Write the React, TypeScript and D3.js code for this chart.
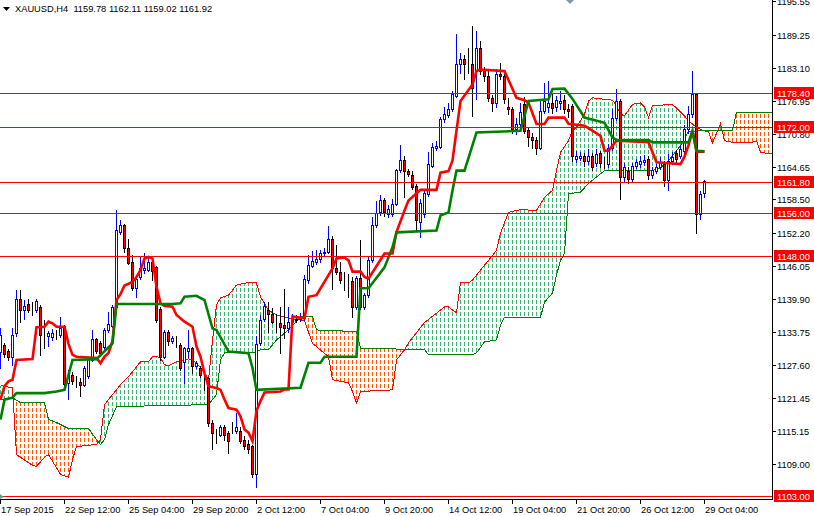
import * as React from 'react';
import * as d3 from 'd3';

// XAUUSD H4 candles, 17 Sep 2015 20:00 .. 29 Oct 2015 04:00 (177 bars)
const opens = [
  1130.0, 1131.2, 1130.1, 1129.1, 1133.5, 1139.9, 1137.8, 1139.0, 1138.4, 1137.8,
  1138.4, 1134.7, 1132.9, 1132.8, 1133.2, 1133.2, 1134.85, 1124.2, 1125.7, 1124.5,
  1124.4, 1123.9, 1125.4, 1128.5, 1132.4, 1131.7, 1131.0, 1134.0, 1134.85, 1138.45,
  1152.5, 1153.8, 1149.5, 1146.8, 1142.0, 1144.0, 1145.3, 1145.3, 1146.8, 1145.9,
  1138.1, 1129.1, 1133.8, 1131.95, 1132.2, 1131.3, 1128.2, 1130.1, 1130.7, 1127.3,
  1127.0, 1125.5, 1125.1, 1116.7, 1114.9, 1114.55, 1115.9, 1114.9, 1115.6, 1115.2,
  1115.3, 1113.6, 1112.8, 1112.4, 1107.1, 1131.6, 1136.1, 1137.9, 1137.0, 1135.6,
  1135.35, 1135.0, 1134.4, 1135.6, 1136.2, 1136.15, 1136.3, 1143.4, 1146.1, 1146.8,
  1147.3, 1148.4, 1148.7, 1151.2, 1145.6, 1145.0, 1143.55, 1143.4, 1143.2, 1138.45,
  1143.9, 1138.45, 1140.6, 1147.15, 1153.65, 1156.1, 1158.4, 1155.8, 1155.8, 1157.6,
  1164.0, 1165.9, 1163.9, 1163.0, 1161.1, 1154.2, 1155.8, 1159.6, 1164.8, 1168.1,
  1168.4, 1173.5, 1174.2, 1175.4, 1177.9, 1183.8, 1184.7, 1183.8, 1183.8, 1182.5,
  1186.9, 1182.5, 1181.6, 1177.55, 1176.6, 1181.9, 1181.6, 1175.8, 1175.4, 1171.65,
  1172.6, 1176.3, 1171.45, 1170.1, 1169.6, 1168.2, 1175.0, 1175.7, 1176.6, 1175.7,
  1176.6, 1177.05, 1175.4, 1176.0, 1166.1, 1166.25, 1166.7, 1165.75, 1166.7, 1165.4,
  1167.1, 1165.45, 1165.1, 1168.2, 1173.8, 1176.9, 1162.65, 1163.9, 1162.3, 1164.8,
  1165.1, 1165.45, 1166.1, 1163.0, 1163.9, 1164.6, 1165.1, 1162.15, 1165.75, 1167.1,
  1166.7, 1167.6, 1171.65, 1174.45, 1178.2, 1155.8, 1159.78,
];
const highs = [
  1134.5, 1131.7, 1130.6, 1134.5, 1141.6, 1141.6, 1139.7, 1139.9, 1139.3, 1139.9,
  1138.8, 1136.0, 1133.9, 1134.2, 1134.0, 1136.5, 1135.0, 1126.7, 1126.3, 1125.4,
  1125.2, 1127.3, 1128.95, 1134.1, 1132.6, 1132.0, 1134.5, 1137.5, 1138.75, 1156.45,
  1154.6, 1154.0, 1151.2, 1148.1, 1144.0, 1147.8, 1148.4, 1147.8, 1147.5, 1146.0,
  1138.45, 1134.1, 1134.1, 1133.0, 1132.9, 1131.7, 1131.0, 1134.1, 1131.0, 1128.3,
  1127.4, 1126.65, 1125.35, 1117.3, 1115.5, 1116.4, 1116.4, 1115.2, 1116.8, 1118.6,
  1115.9, 1114.2, 1113.6, 1112.5, 1133.0, 1136.9, 1139.3, 1139.4, 1138.2, 1137.0,
  1138.45, 1141.7, 1138.3, 1137.0, 1136.9, 1137.3, 1144.35, 1148.1, 1148.9, 1149.0,
  1149.1, 1149.5, 1153.45, 1151.6, 1149.9, 1146.8, 1145.0, 1144.65, 1144.0, 1144.2,
  1151.0, 1141.0, 1147.8, 1155.2, 1158.3, 1159.4, 1158.8, 1157.5, 1158.6, 1164.2,
  1168.7, 1166.7, 1164.2, 1163.9, 1161.3, 1158.5, 1160.2, 1167.3, 1169.0, 1169.5,
  1174.0, 1175.7, 1176.5, 1178.8, 1189.35, 1185.9, 1185.6, 1186.9, 1190.9, 1190.0,
  1188.1, 1183.3, 1182.8, 1178.0, 1182.8, 1184.1, 1182.0, 1177.55, 1175.8, 1173.8,
  1176.6, 1177.7, 1171.9, 1171.0, 1170.1, 1176.9, 1180.35, 1180.65, 1178.2, 1177.9,
  1178.8, 1178.0, 1176.4, 1176.4, 1167.5, 1167.4, 1167.2, 1167.9, 1167.2, 1168.0,
  1167.6, 1166.4, 1168.9, 1175.4, 1179.1, 1177.2, 1165.3, 1164.6, 1165.4, 1166.0,
  1166.7, 1166.9, 1166.7, 1164.6, 1165.1, 1166.4, 1165.7, 1167.0, 1167.3, 1167.7,
  1168.6, 1172.4, 1176.0, 1182.5, 1178.4, 1160.0, 1162.11,
];
const lows = [
  1127.0, 1129.1, 1128.5, 1127.6, 1133.0, 1135.6, 1136.1, 1137.5, 1136.9, 1137.5,
  1129.4, 1130.8, 1131.1, 1132.2, 1132.5, 1132.8, 1123.5, 1121.2, 1124.0, 1123.5,
  1121.7, 1123.6, 1125.2, 1128.3, 1129.8, 1129.2, 1130.6, 1133.7, 1134.6, 1137.8,
  1152.0, 1148.6, 1146.4, 1141.55, 1140.3, 1143.7, 1144.7, 1145.1, 1143.4, 1135.6,
  1128.5, 1128.9, 1131.3, 1131.7, 1131.0, 1126.6, 1124.2, 1129.1, 1126.0, 1126.9,
  1125.35, 1122.9, 1116.1, 1111.8, 1113.0, 1114.2, 1113.6, 1111.1, 1114.9, 1114.9,
  1112.9, 1111.8, 1111.1, 1106.7, 1104.7, 1131.3, 1135.8, 1133.8, 1135.4, 1133.8,
  1129.8, 1132.6, 1133.8, 1135.2, 1135.5, 1135.7, 1136.0, 1142.9, 1145.8, 1146.4,
  1146.8, 1148.0, 1148.4, 1141.7, 1144.6, 1142.8, 1141.55, 1140.3, 1136.5, 1138.0,
  1138.0, 1138.0, 1140.3, 1146.8, 1153.3, 1155.6, 1155.5, 1155.2, 1155.4, 1157.4,
  1163.7, 1158.9, 1162.9, 1160.5, 1152.7, 1151.5, 1155.2, 1159.2, 1164.5, 1167.8,
  1168.1, 1173.0, 1173.9, 1175.0, 1177.6, 1182.2, 1181.0, 1182.2, 1174.1, 1177.2,
  1181.9, 1180.6, 1177.0, 1175.1, 1175.7, 1181.0, 1176.5, 1174.5, 1171.0, 1170.7,
  1172.3, 1170.9, 1168.55, 1168.2, 1167.0, 1167.9, 1174.6, 1174.8, 1174.6, 1175.0,
  1175.4, 1174.6, 1173.9, 1165.7, 1165.5, 1165.8, 1164.8, 1165.2, 1164.0, 1164.8,
  1164.6, 1164.4, 1164.5, 1167.8, 1173.4, 1158.6, 1162.0, 1161.6, 1161.9, 1164.3,
  1164.6, 1165.0, 1162.3, 1162.6, 1163.5, 1164.2, 1161.1, 1160.2, 1165.2, 1165.5,
  1166.2, 1167.2, 1171.0, 1174.0, 1152.3, 1154.9, 1159.02,
];
const closes = [
  1133.2, 1129.6, 1129.1, 1133.2, 1139.9, 1137.8, 1138.6, 1137.8, 1138.4, 1139.5,
  1133.2, 1134.7, 1133.6, 1133.6, 1133.2, 1134.5, 1124.0, 1125.6, 1124.5, 1124.5,
  1123.8, 1127.0, 1128.7, 1132.4, 1130.1, 1129.8, 1134.1, 1135.2, 1138.45, 1152.7,
  1153.65, 1149.5, 1146.65, 1141.9, 1143.7, 1145.6, 1145.6, 1146.8, 1145.15, 1136.0,
  1129.1, 1133.8, 1131.95, 1132.6, 1132.2, 1127.0, 1130.7, 1130.7, 1127.3, 1127.9,
  1125.7, 1125.5, 1116.7, 1114.9, 1114.9, 1115.9, 1114.55, 1113.3, 1115.6, 1115.9,
  1113.3, 1112.4, 1111.9, 1107.1, 1131.5, 1135.95, 1138.6, 1137.1, 1135.65, 1135.6,
  1134.6, 1134.4, 1135.65, 1136.2, 1136.0, 1136.6, 1143.6, 1146.2, 1146.95, 1147.45,
  1148.4, 1148.7, 1151.2, 1145.6, 1145.0, 1143.4, 1143.55, 1143.4, 1138.45, 1143.9,
  1138.45, 1140.6, 1147.15, 1153.65, 1156.0, 1158.4, 1156.1, 1156.75, 1157.6, 1164.0,
  1165.9, 1163.9, 1163.3, 1160.8, 1154.6, 1157.8, 1159.7, 1165.15, 1168.4, 1168.55,
  1173.5, 1174.45, 1175.4, 1178.2, 1183.8, 1184.7, 1183.8, 1183.8, 1179.4, 1186.9,
  1182.5, 1181.6, 1177.55, 1176.6, 1181.9, 1181.6, 1177.2, 1175.4, 1171.65, 1172.6,
  1174.8, 1171.3, 1170.1, 1169.6, 1168.2, 1175.0, 1176.9, 1176.6, 1175.6, 1177.05,
  1176.9, 1175.4, 1175.0, 1166.6, 1166.7, 1166.7, 1165.75, 1166.7, 1164.5, 1167.0,
  1165.25, 1165.45, 1168.2, 1173.8, 1176.9, 1162.65, 1164.6, 1162.3, 1164.8, 1165.45,
  1165.75, 1165.9, 1163.0, 1164.0, 1164.6, 1165.45, 1162.15, 1165.75, 1166.5, 1166.1,
  1167.9, 1171.65, 1174.45, 1178.2, 1155.8, 1159.55, 1161.92,
];

// Ichimoku lines as [bar, price] at the points where they turn
const tenkan: [number, number][] = [
  [0, 1121.1], [1, 1123.6], [2, 1124.5], [3, 1124.8], [4, 1128.5], [8, 1128.65], [9, 1134.6], [11, 1134.7],
  [12, 1135.65], [13, 1135.35], [14, 1134.7], [16, 1134.7], [17, 1131.5], [18, 1129.45], [19, 1129.1],
  [24, 1128.85], [25, 1127.9], [26, 1129.1], [27, 1129.8], [28, 1132.0], [29, 1139.7], [30, 1140.8],
  [31, 1142.4], [33, 1143.1], [34, 1144.0], [35, 1145.3], [36, 1147.45], [37, 1147.75], [38, 1147.45],
  [39, 1142.2], [40, 1139.1], [41, 1138.6], [43, 1138.45], [44, 1136.9], [46, 1135.65], [48, 1134.7],
  [49, 1131.0], [50, 1129.1], [51, 1126.0], [52, 1123.55], [54, 1123.25], [55, 1122.9], [56, 1121.1],
  [57, 1119.5], [59, 1119.2], [60, 1117.95], [61, 1115.5], [62, 1114.9], [63, 1113.3], [64, 1119.0],
  [65, 1120.8], [66, 1122.4], [70, 1122.6], [71, 1123.0], [72, 1123.0], [73, 1136.6], [76, 1136.3],
  [77, 1140.3], [79, 1140.6], [83, 1145.6], [84, 1147.45], [86, 1147.65], [87, 1147.1], [88, 1145.0],
  [90, 1145.0], [91, 1144.0], [92, 1143.7], [96, 1148.4], [98, 1148.4], [99, 1152.4], [101, 1156.45],
  [102, 1158.3], [105, 1160.3], [109, 1160.3], [110, 1163.5], [112, 1163.8], [113, 1165.8], [115, 1176.9],
  [118, 1180.0], [119, 1182.5], [120, 1182.8], [126, 1182.5], [129, 1177.5], [131, 1177.05], [132, 1176.6],
  [134, 1172.6], [136, 1172.6], [137, 1173.8], [141, 1173.8], [142, 1172.65], [146, 1172.3], [150, 1170.4],
  [151, 1167.6], [152, 1167.6], [154, 1169.5], [162, 1169.2], [164, 1165.45], [170, 1165.1], [171, 1166.5],
  [172, 1168.6], [173, 1171.3], [174, 1167.45], [176, 1167.45],
];
const kijun: [number, number][] = [
  [0, 1117.35], [1, 1121.07], [3, 1121.44], [4, 1122.3], [11, 1122.3], [14, 1122.6], [16, 1122.9],
  [18, 1128.5], [24, 1128.65], [28, 1131.6], [29, 1138.95], [43, 1138.95], [45, 1139.07], [46, 1140.3],
  [49, 1140.5], [51, 1139.7], [53, 1134.4], [54, 1134.1], [57, 1130.07], [62, 1129.77], [63, 1127.0],
  [64, 1122.9], [75, 1123.3], [77, 1127.96], [80, 1127.96], [81, 1129.08], [89, 1129.08], [90, 1141.9],
  [92, 1141.9], [96, 1145.8], [97, 1147.7], [98, 1149.56], [99, 1152.35], [109, 1152.7], [110, 1155.5],
  [112, 1156.08], [113, 1160.17], [114, 1163.9], [116, 1163.9], [119, 1171.03], [130, 1171.34],
  [131, 1174.14], [132, 1176.93], [137, 1177.25], [138, 1179.16], [141, 1179.22], [143, 1177.3],
  [146, 1173.82], [151, 1172.83], [153, 1170.1], [154, 1169.61], [162, 1169.61], [163, 1169.17],
  [172, 1169.17], [173, 1171.34], [174, 1167.62], [176, 1167.49],
];
const spanA: [number, number][] = [
  [0, 1123.7], [3, 1123.3], [4, 1110.8], [8, 1108.8], [9, 1108.6], [11, 1110.3], [12, 1110.8], [15, 1107.1],
  [17, 1106.55], [18, 1109.9], [19, 1112.3], [24, 1112.7], [25, 1113.6], [26, 1120.1], [27, 1121.1],
  [29, 1122.9], [30, 1123.9], [32, 1125.35], [34, 1127.2], [35, 1128.15], [37, 1128.15], [38, 1129.1],
  [39, 1129.1], [40, 1128.9], [41, 1127.6], [42, 1127.4], [44, 1128.15], [47, 1128.7], [49, 1127.96],
  [51, 1126.1], [52, 1124.8], [53, 1132.2], [54, 1138.8], [55, 1140.1], [57, 1140.6], [59, 1142.5],
  [62, 1143.0], [64, 1142.9], [65, 1140.25], [67, 1137.8], [69, 1136.9], [72, 1136.3], [75, 1135.97],
  [76, 1135.8], [78, 1131.6], [82, 1129.1], [83, 1124.8], [87, 1124.2], [88, 1122.6], [89, 1120.45],
  [90, 1122.6], [98, 1122.9], [99, 1128.5], [101, 1130.4], [102, 1131.7], [106, 1135.5], [111, 1138.4],
  [112, 1138.4], [114, 1137.3], [115, 1143.0], [117, 1142.9], [118, 1143.4], [120, 1145.3], [122, 1147.1],
  [124, 1149.0], [125, 1152.2], [127, 1156.1], [130, 1156.6], [134, 1156.45], [136, 1158.9], [138, 1160.2],
  [139, 1163.9], [140, 1167.3], [142, 1169.5], [143, 1171.3], [144, 1172.0], [146, 1174.45], [147, 1176.9],
  [148, 1177.5], [153, 1177.06], [154, 1176.0], [155, 1174.45], [156, 1174.14], [158, 1176.3], [160, 1176.56],
  [161, 1175.8], [162, 1173.8], [163, 1176.0], [168, 1176.3], [171, 1174.14], [172, 1173.2], [174, 1172.0],
  [176, 1171.3], [177, 1171.16], [178, 1169.1], [180, 1172.65], [181, 1169.5], [183, 1169.17], [188, 1169.17],
  [189, 1169.5], [190, 1167.3], [192, 1167.1], [193, 1167.1],
];
const spanB: [number, number][] = [
  [0, 1121.07], [3, 1121.44], [5, 1120.5], [11, 1120.5], [12, 1117.35], [14, 1116.8], [17, 1115.67],
  [22, 1115.67], [24, 1113.6], [25, 1112.7], [26, 1113.6], [27, 1116.4], [29, 1119.77], [52, 1120.14],
  [54, 1122.0], [55, 1128.5], [56, 1129.8], [63, 1129.8], [65, 1130.4], [67, 1130.4], [69, 1132.24],
  [72, 1134.1], [75, 1136.58], [78, 1136.58], [79, 1134.1], [89, 1133.8], [90, 1130.7], [101, 1130.5],
  [106, 1130.5], [107, 1129.45], [118, 1129.45], [119, 1129.8], [121, 1131.87], [124, 1132.24],
  [125, 1135.0], [126, 1136.5], [135, 1136.5], [136, 1139.3], [138, 1141.0], [139, 1144.35], [140, 1147.1],
  [141, 1148.4], [142, 1159.6], [145, 1159.85], [147, 1161.5], [150, 1163.3], [151, 1163.9], [163, 1163.9],
  [165, 1164.45], [167, 1165.76], [170, 1168.55], [172, 1171.16], [175, 1171.34], [183, 1171.34],
  [184, 1174.83], [193, 1174.83],
];

const levels = [1178.40, 1172.00, 1161.80, 1156.00, 1148.00, 1103.00];
const priceTicks = [1195.55, 1189.25, 1183.10, 1176.95, 1170.80, 1164.65, 1158.50, 1152.20,
  1146.05, 1139.90, 1133.75, 1127.60, 1121.45, 1115.15, 1109.00];
const timeLabels = ['17 Sep 2015', '22 Sep 12:00', '25 Sep 04:00', '29 Sep 20:00', '2 Oct 12:00',
  '7 Oct 04:00', '9 Oct 20:00', '14 Oct 12:00', '19 Oct 04:00', '21 Oct 20:00', '26 Oct 12:00', '29 Oct 04:00'];
const header = 'XAUUSD,H4  1159.78 1162.11 1159.02 1161.92';

const W = 814, H = 516;
const plotW = 772, plotH = 499;
const font = '"Liberation Sans", Arial, sans-serif';

const App = () => {
  const svgRef = React.useRef<SVGSVGElement>(null);

  React.useEffect(() => {
    if (!svgRef.current) return;
    document.body.style.margin = '0';
    const svg = d3.select(svgRef.current);
    svg.selectAll('*').remove();

    const x = d3.scaleLinear().domain([0, 193]).range([0.5, 772.5]);
    const y = d3.scaleLinear().domain([1103, 1195.55]).range([496.3, 1.3]);
    const py = (v: number) => Math.round(y(v)) + 0.5;

    const defs = svg.append('defs');
    defs.append('clipPath').attr('id', 'plot')
      .append('rect').attr('x', 0).attr('y', 0).attr('width', plotW).attr('height', plotH);

    const hatch = (id: string, color: string) => {
      const p = defs.append('pattern').attr('id', id).attr('patternUnits', 'userSpaceOnUse')
        .attr('width', 4).attr('height', 6);
      p.append('rect').attr('x', 0).attr('y', 0).attr('width', 1).attr('height', 4).attr('fill', color);
    };
    hatch('hatchUp', '#3cb371');
    hatch('hatchDown', '#ff5500');

    const ax = (d: [number, number]) => (d[0] === 0 ? -3 : d[0] >= 193 ? 780 : x(d[0]));
    const above = d3.area<[number, number]>().x(ax).y0(-5).y1(d => y(d[1]));
    const below = d3.area<[number, number]>().x(ax).y0(d => y(d[1])).y1(plotH + 5);
    const clips: [string, any, [number, number][]][] = [
      ['aboveA', above, spanA], ['belowA', below, spanA],
      ['aboveB', above, spanB], ['belowB', below, spanB],
    ];
    clips.forEach(([id, gen, data]) => {
      defs.append('clipPath').attr('id', id).append('path').attr('d', gen(data));
    });

    const plot = svg.append('g').attr('clip-path', 'url(#plot)');

    // kumo: green where span A is above span B, orange where below
    plot.append('g').attr('clip-path', 'url(#belowA)')
      .append('rect').attr('clip-path', 'url(#aboveB)')
      .attr('x', 0).attr('y', 0).attr('width', plotW).attr('height', plotH).attr('fill', 'url(#hatchUp)');
    plot.append('g').attr('clip-path', 'url(#belowB)')
      .append('rect').attr('clip-path', 'url(#aboveA)')
      .attr('x', 0).attr('y', 0).attr('width', plotW).attr('height', plotH).attr('fill', 'url(#hatchDown)');

    const line = d3.line<[number, number]>().x(d => x(d[0])).y(d => y(d[1]));
    plot.append('path').attr('d', line(spanA)).attr('fill', 'none').attr('stroke', '#ff0000')
      .attr('stroke-width', 1).attr('shape-rendering', 'crispEdges');
    plot.append('path').attr('d', line(spanB)).attr('fill', 'none').attr('stroke', '#008000')
      .attr('stroke-width', 1).attr('shape-rendering', 'crispEdges');

    // candles
    const cg = plot.append('g').attr('shape-rendering', 'crispEdges');
    opens.forEach((o, i) => {
      const c = closes[i];
      const hi = Math.max(highs[i], o, c);
      const lo = Math.min(lows[i], o, c);
      const up = c > o;
      const cx = x(i);
      const col = up ? '#0000ff' : '#000000';
      cg.append('line').attr('x1', cx).attr('x2', cx)
        .attr('y1', Math.round(y(hi))).attr('y2', Math.round(y(lo)) + 1).attr('stroke', col);
      const top = py(Math.max(o, c));
      const bot = py(Math.min(o, c));
      cg.append('rect').attr('x', cx - 1).attr('y', top).attr('width', 2).attr('height', bot - top)
        .attr('fill', up ? '#ffffff' : '#ff0000').attr('stroke', col);
    });

    plot.append('path').attr('d', line(tenkan)).attr('fill', 'none').attr('stroke', '#ff0000').attr('stroke-width', 2.6);
    plot.append('path').attr('d', line(kijun)).attr('fill', 'none').attr('stroke', '#008000').attr('stroke-width', 2.6);

    // horizontal levels
    levels.forEach(l => {
      plot.append('line').attr('x1', 0).attr('x2', plotW).attr('y1', py(l)).attr('y2', py(l))
        .attr('stroke', '#ff0000').attr('shape-rendering', 'crispEdges');
    });

    // axes
    const axes = svg.append('g').attr('shape-rendering', 'crispEdges');
    axes.append('line').attr('x1', plotW + 0.5).attr('x2', plotW + 0.5).attr('y1', 0).attr('y2', plotH + 0.5).attr('stroke', '#000');
    axes.append('line').attr('x1', 0).attr('x2', plotW + 0.5).attr('y1', plotH + 0.5).attr('y2', plotH + 0.5).attr('stroke', '#000');

    priceTicks.forEach(t => {
      axes.append('line').attr('x1', plotW + 0.5).attr('x2', plotW + 4).attr('y1', py(t)).attr('y2', py(t)).attr('stroke', '#000');
      svg.append('text').attr('x', 777).attr('y', py(t) + 3.5).attr('font-family', font).attr('font-size', 9.3)
        .attr('fill', '#000').text(t.toFixed(2));
    });

    levels.forEach(l => {
      const ly = Math.round(y(l));
      svg.append('rect').attr('x', 774).attr('y', ly - 6).attr('width', 40).attr('height', 12).attr('fill', '#ff0000');
      svg.append('text').attr('x', 777).attr('y', ly + 4).attr('font-family', font).attr('font-size', 9.3)
        .attr('fill', '#ffffff').text(l.toFixed(2));
    });

    timeLabels.forEach((lab, k) => {
      const tx = x(k * 16);
      axes.append('line').attr('x1', tx).attr('x2', tx).attr('y1', plotH + 0.5).attr('y2', plotH + 5).attr('stroke', '#000');
      svg.append('text').attr('x', tx + 0.5).attr('y', 513).attr('font-family', font).attr('font-size', 9.3)
        .attr('fill', '#000').text(lab);
    });

    // header and small markers
    svg.append('path').attr('d', 'M3,7 L10,7 L6.5,11 Z').attr('fill', '#000');
    svg.append('text').attr('x', 15).attr('y', 12).attr('font-family', font).attr('font-size', 9.3)
      .style('white-space', 'pre').attr('fill', '#000').text(header);
    svg.append('path').attr('d', 'M566,0 L574,0 L570,4 Z').attr('fill', '#8497b0');
    svg.append('path').attr('d', 'M0,494 L4,497 L0,499 Z').attr('fill', '#5f9ea0');
  }, []);

  return (
    <svg ref={svgRef} width={W} height={H}
      style={{ position: 'absolute', left: 0, top: 0, display: 'block', background: '#ffffff' }} />
  );
};

export default App;
